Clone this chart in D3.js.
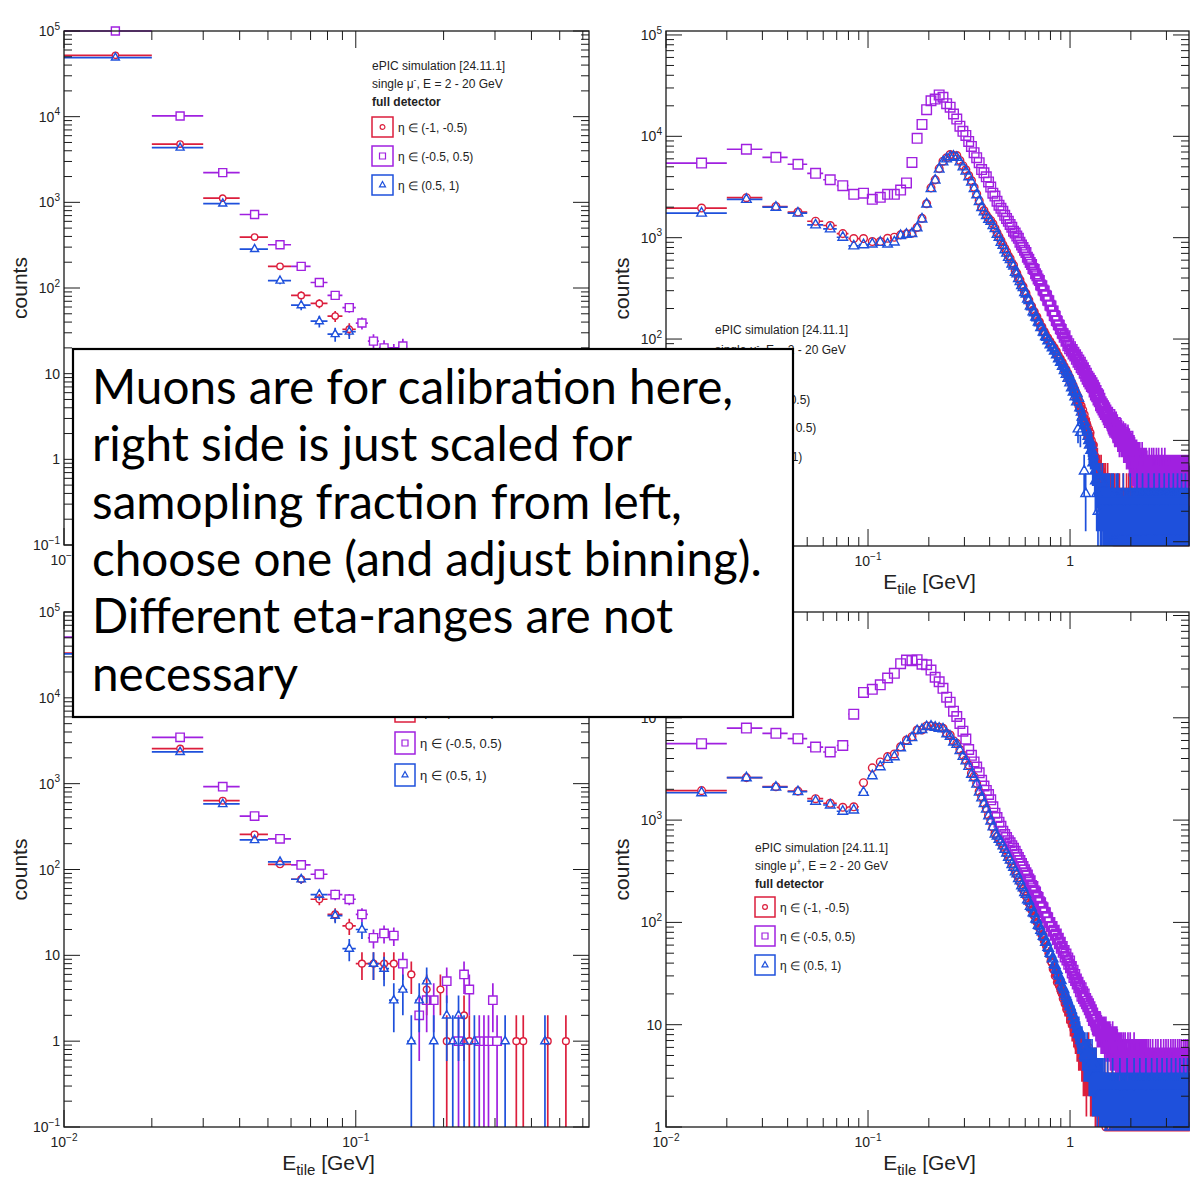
<!DOCTYPE html>
<html>
<head>
<meta charset="utf-8">
<script src="https://cdn.jsdelivr.net/npm/d3@7"></script>
<style>
  body { margin: 0; background: #fff; }
</style>
</head>
<body>
<svg id="chart" width="1190" height="1179"></svg>
<script>
// Bins are 0.01 GeV wide, the first one is [0.01, 0.02]
var binStart = 0.01;
var binWidth = 0.01;

// ---- top left: E_tile, small range ----
var tlRed = [52000, 4790, 1117, 393, 179, 82, 66, 47, 33];
var tlPurple = [100000, 10200, 2220, 721, 320, 179, 116, 82, 59, 39, 24, 20, 18, 21];
var tlBlue = [49000, 4350, 968, 285, 122, 63, 41, 29, 31];

// ---- bottom left ----
var blRed = [33300, 2566, 633, 256, 115, 77, 45, 30, 22, 8, 8, 8, 8, 0, 6, 0, 4, 0, 4, 1,
  0, 0, 2, 1, 0, 0, 0, 0, 0, 0, 0, 0, 0, 0, 1, 0, 1, 0, 0, 0, 0, 0, 0, 0, 1, 0, 0, 0, 0, 0, 0, 1];
var blPurple = [51000, 3470, 923, 419, 228, 113, 88, 51, 45, 30, 16, 18, 17, 8, 0, 2, 3, 3, 0, 5,
  0, 1, 6, 4, 0, 1, 1, 1, 3, 1];
var blBlue = [32500, 2345, 580, 221, 123, 77, 51, 29, 12, 20, 8, 7, 3, 4, 1, 3, 5, 1, 0, 2,
  1, 2, 1, 0, 1, 0, 0, 0, 0, 0, 0, 1, 0, 0, 0, 0, 0, 0, 0, 0, 0, 0, 0, 1];

// ---- top right: scaled energy ----
var trRed = [1960, 2480, 2030, 1790, 1452, 1318, 1097, 980, 980, 915,
  915, 986, 1010, 1066, 1090, 1105, 1260, 1550, 2158, 3100,
  3720, 4800, 5680, 6140, 6610, 6460, 6460, 5770, 5130, 4670,
  4100, 3660, 3140, 2700, 2320, 2000, 1850, 1680, 1560, 1480,
  1370, 1240, 1120, 1020, 940, 850, 785, 725, 665, 625,
  565, 535, 470, 445, 405, 382, 345, 330, 295, 283,
  255, 243, 218, 211, 192, 186, 170, 166, 151, 148,
  134, 132, 120, 119, 112, 104, 103, 96, 95, 88,
  88, 81, 82, 75, 76, 68, 69, 63, 64, 58,
  59, 53, 54, 48, 50, 44, 46, 40, 42, 37,
  38, 33, 35, 30, 32, 27, 29, 24, 27, 22,
  24, 20, 22, 18, 20, 16, 18, 14, 16, 13,
  14, 11, 13, 10, 12, 9, 10];
var trRedTail = "98977665654544534343243324232323222312322122321322" +
  "21221320212231221302122132021223122021213202122312" +
  "20212132021223121302122132021223120212213202122312" +
  "21202121320212231213021221320212231202122132021223" +
  "12130212213202122312021221320212231213021221320212" +
  "23120212213202122312";

var trPurple = [5450, 7450, 6200, 5300, 4310, 3730, 3260, 2680, 2750, 2390,
  2500, 2680, 2680, 2950, 3470, 5530, 9560, 13100, 18300, 22400,
  23300, 25600, 24300, 21000, 19400, 16600, 14800, 12600, 11200, 10200,
  8900, 7950, 6900, 6150, 5500, 4700, 4360, 3980, 3550, 3160,
  2750, 2570, 2290, 2090, 1950, 1820, 1660, 1550, 1450, 1350,
  1270, 1160, 1110, 1040, 985, 900, 845, 800, 752, 715,
  640, 612, 570, 545, 497, 485, 440, 420, 392, 378,
  342, 335, 305, 298, 270, 266, 241, 238, 215, 212,
  190, 189, 171, 168, 152, 150, 138, 137, 126, 124,
  114, 113, 104, 108, 95, 96, 86, 90, 80, 84,
  76, 79, 71, 74, 68, 70, 63, 66, 59, 62,
  56, 59, 52, 55, 50, 52, 46, 49, 43, 46,
  40, 43, 38, 41, 36, 39, 34, 37, 33, 35,
  30, 33, 28, 31, 27, 29, 25, 28, 24, 26,
  22, 24, 21, 23, 20, 22, 19, 21, 18, 20,
  18, 17, 19, 16, 17, 15, 18, 16, 15, 17,
  14, 16, 13, 15, 14, 12, 15, 13, 12, 14,
  12, 11, 13, 12, 10, 12, 11, 13, 10, 11,
  11, 10, 12, 9, 11, 10, 9, 11, 10, 8,
  10, 9, 11, 8, 9, 10, 8, 9, 7, 9];
var trPurpleTail = "79686758576657657465765564756545646536454535464354" +
  "53645345634543546453453645435453463545345436453545" +
  "34543534243534352434353424353434253435342435343524" +
  "35343534243534252434353424353434253435342435343524";

var trBlue = [1750, 2390, 2000, 1750, 1337, 1222, 1010, 830, 852, 868,
  900, 868, 908, 1050, 1080, 1100, 1250, 1530, 2150, 3050,
  3700, 4750, 5600, 6000, 6300, 6350, 6200, 5600, 5000, 4550,
  4000, 3550, 3050, 2650, 2280, 1980, 1800, 1650, 1520, 1450,
  1320, 1230, 1080, 1010, 900, 840, 760, 705, 640, 610,
  550, 525, 455, 440, 395, 370, 338, 322, 287, 278,
  248, 240, 212, 208, 186, 182, 165, 162, 147, 145,
  130, 130, 117, 116, 106, 104, 96, 97, 88, 89,
  82, 83, 76, 77, 70, 70, 64, 65, 59, 60,
  54, 56, 49, 52, 45, 48, 41, 45, 37, 41,
  33, 37, 30, 34, 27, 31, 24, 29, 13, 26,
  21, 12, 19, 17, 15, 16, 5, 15, 3, 13,
  12, 11, 10, 9, 10, 8, 9];
var trBlueTail = "86765453524342324323232232323222312322122321322212" +
  "21221312211202121221312122120212212131221212021221" +
  "31212212021221213122121202122121312212120212212131" +
  "22121202122121312212120212212131221212021221213122" +
  "12120212212131221212021221213122121202122121312212" +
  "1202122121312212";

// ---- bottom right ----
var brRed = [1940, 2600, 2120, 1920, 1620, 1460, 1333, 1350, 2320, 3240,
  3700, 4170, 4430, 5210, 6060, 6540, 7600, 7600, 8320, 8320,
  8070, 8070, 7890, 7050, 6780, 5970, 5620, 4900, 4330, 3870,
  3450, 2870, 2660, 2290, 1900, 1700, 1460, 1300, 1120, 1000,
  850, 740, 690, 645, 598, 556, 516, 470, 440, 400,
  376, 340, 320, 292, 276, 248, 236, 210, 203, 181,
  173, 155, 151, 133, 130, 116, 114, 101, 99, 88,
  86, 76, 75, 66, 65, 58, 56, 50, 48, 42,
  40, 35, 34, 30, 31, 26, 27, 24, 23, 21,
  20, 18, 19, 16, 16, 14, 15, 13, 13, 11,
  12, 10, 11, 9, 10, 8, 9, 7, 8, 6,
  7, 6, 6, 5, 6, 4, 5, 4, 4, 3];
var brRedTail = "54645343433424323232232322232122321222123212221322" +
  "21221320212231221302122132021223122021213202122312" +
  "20212132021223121302122132021223120212213202122312" +
  "21202121320212231213021221320212231202122132021223" +
  "12130212213202122312021221320212231213021221320212" +
  "23120212213202122312";

var brPurple = [5580, 7940, 7050, 6250, 5170, 4630, 5360, 10850, 17700, 19000,
  21000, 24500, 27200, 33800, 36700, 36200, 37000, 33400, 33000, 29300,
  24900, 22500, 19400, 15900, 14200, 11600, 10300, 8800, 7400, 6200,
  4900, 4300, 3700, 3300, 2900, 2450, 2150, 1950, 1780, 1580,
  1350, 1170, 1060, 955, 870, 776, 725, 676, 630, 600,
  562, 531, 495, 462, 431, 403, 376, 351, 327, 305,
  290, 265, 255, 230, 224, 204, 198, 179, 175, 159,
  156, 142, 139, 126, 124, 112, 111, 100, 100, 91,
  91, 82, 84, 75, 77, 68, 70, 62, 64, 56,
  58, 51, 53, 46, 49, 43, 45, 39, 42, 36,
  37, 32, 34, 29, 31, 27, 28, 25, 26, 23,
  24, 21, 23, 19, 21, 18, 20, 17, 18, 16,
  17, 15, 16, 14, 15, 13, 14, 12, 13, 11,
  12, 11, 12, 10, 11, 9, 10, 9, 10, 9,
  10, 8, 9, 8, 9, 8, 9, 7, 8, 9,
  7, 8, 8, 7, 8, 7, 8, 6, 7, 7,
  6, 8, 7, 6, 7, 6, 7, 5, 6, 7,
  6, 5, 6, 6, 5];
var brPurpleTail = "56565456545654554645456454545546454545445454345445" +
  "45434544543454344543443544343454434443454344345443" +
  "43443534434443534434435344344353443444353443443534" +
  "43443534434443534434435344344353443444353443443534" +
  "43443534434443534434";

var brBlue = [1850, 2600, 2100, 1900, 1530, 1405, 1220, 1255, 1870, 2720,
  3330, 3930, 4170, 5100, 5900, 6400, 7500, 7700, 8200, 8300,
  8100, 7900, 7800, 7000, 6600, 5800, 5500, 4800, 4200, 3800,
  3350, 2800, 2600, 2250, 1880, 1650, 1450, 1280, 1100, 980,
  860, 730, 700, 650, 612, 560, 520, 478, 434, 408,
  368, 346, 312, 298, 268, 255, 228, 218, 196, 188,
  166, 162, 144, 140, 124, 122, 108, 106, 94, 92,
  84, 81, 73, 72, 64, 64, 57, 56, 50, 49,
  44, 44, 39, 38, 35, 34, 31, 30, 27, 27,
  24, 23, 22, 20, 19, 18, 17, 16, 15, 15,
  14, 13, 12, 12, 11, 10, 10, 9, 8, 9,
  8, 7, 7, 7, 6, 6, 5, 6, 5, 5];
var brBlueTail = "65545445343434323332323232232222322121222321212221" +
  "21221312211202121221312122120212212131221212021221" +
  "31212212021221213122121202122121312212120212212131" +
  "22121202122121312212120212212131221212021221213122" +
  "12120212212131221212021221213122121202122121312212" +
  "1202122121312212";

var legendRows = ["(-1, -0.5)", "(-0.5, 0.5)", "(0.5, 1)"];
var noteLines = ["Muons are for calibration here,", "right side is just scaled for",
  "samopling fraction from left,", "choose one (and adjust binning).",
  "Different eta-ranges are not", "necessary"];

var FONT = "'Liberation Sans', Arial, Helvetica, sans-serif";
var colors = ["#dc1e3c", "#a020e0", "#1e50dc"];
var kinds = ["circle", "square", "triangle"];

function withTail(arr, tail) {
  return arr.concat(tail.split("").map(Number));
}

var svg = d3.select("#chart");

var panels = [
  { x0: 64, x1: 589, y0: 31, y1: 545, xDomain: [0.01, 0.63], yDomain: [0.1, 1e5],
    series: [tlRed, tlPurple, tlBlue], ms: 1.0, mu: "-",
    legend: { x: 372, head: [70, 88, 106], rows: [127, 156, 185], box: [21, 20], fs: 12 } },
  { x0: 64, x1: 589, y0: 612, y1: 1127, xDomain: [0.01, 0.63], yDomain: [0.1, 1e5],
    series: [blRed, blPurple, blBlue], ms: 1.05, mu: "-",
    legend: { x: 395, head: [645, 665, 685], rows: [711, 743, 775], box: [20, 22], fs: 13 } },
  { x0: 666, x1: 1189, y0: 31, y1: 546, xDomain: [0.01, 3.88], yDomain: [0.908, 109400],
    series: [withTail(trRed, trRedTail), withTail(trPurple, trPurpleTail), withTail(trBlue, trBlueTail)],
    ms: 1.2, mu: "-",
    legend: { x: 715, head: [334, 354, 374], rows: [399, 427, 456], box: [21, 20], fs: 12 } },
  { x0: 666, x1: 1189, y0: 612, y1: 1127, xDomain: [0.01, 3.88], yDomain: [1, 108200],
    series: [withTail(brRed, brRedTail), withTail(brPurple, brPurpleTail), withTail(brBlue, brBlueTail)],
    ms: 1.2, mu: "+",
    legend: { x: 755, head: [852, 870, 888], rows: [907, 936, 965], box: [20, 20], fs: 12 } }
];

// the white note box that lies over the four plots
var noteBox = { x: 73, y: 349, w: 720, h: 368 };

function addMarker(path, kind, cx, cy, s) {
  if (kind === "circle") {
    var r = 3.2 * s;
    path.moveTo(cx + r, cy);
    path.arc(cx, cy, r, 0, 2 * Math.PI);
  } else if (kind === "square") {
    var h = 4 * s;
    path.rect(cx - h, cy - h, 2 * h, 2 * h);
  } else {
    var t = 4.6 * s;
    path.moveTo(cx, cy - t);
    path.lineTo(cx + t * 0.87, cy + t * 0.55);
    path.lineTo(cx - t * 0.87, cy + t * 0.55);
    path.closePath();
  }
}

function drawSeries(g, counts, x, y, p, k) {
  var bars = d3.path(), marks = d3.path();
  var gap = (k === 0 ? 3.2 : k === 1 ? 4 : 2.5) * p.ms;
  counts.forEach(function(n, i) {
    if (!n) return;
    var lo = binStart + binWidth * i, hi = lo + binWidth, c = lo + binWidth / 2;
    if (c > p.xDomain[1]) return;
    var cx = x(c), cy = y(n);
    var xl = x(lo), xr = Math.min(x(hi), p.x1);
    var e = Math.sqrt(n);
    var yt = y(Math.min(n + e, p.yDomain[1]));
    var yb = n - e > p.yDomain[0] ? y(n - e) : p.y1;
    if (cx - gap > xl) { bars.moveTo(xl, cy); bars.lineTo(cx - gap, cy); }
    if (xr > cx + gap) { bars.moveTo(cx + gap, cy); bars.lineTo(xr, cy); }
    if (cy - gap > yt) { bars.moveTo(cx, yt); bars.lineTo(cx, cy - gap); }
    if (yb > cy + gap) { bars.moveTo(cx, cy + gap); bars.lineTo(cx, yb); }
    addMarker(marks, kinds[k], cx, cy, p.ms);
  });
  g.append("path").attr("d", bars.toString())
    .attr("stroke", colors[k]).attr("stroke-width", 1.7).attr("fill", "none");
  g.append("path").attr("d", marks.toString())
    .attr("stroke", colors[k]).attr("stroke-width", 1.4).attr("fill", "none");
}

function powLabel(sel, n, fs) {
  if (n === 0) { sel.text("1"); return; }
  if (n === 1) { sel.text("10"); return; }
  sel.append("tspan").text("10");
  sel.append("tspan").attr("dy", -fs * 0.45).attr("font-size", fs * 0.72)
    .text(n < 0 ? "\u2212" + (-n) : String(n));
}

function drawAxes(g, x, y, p) {
  var t = g.append("g").attr("stroke", "#1a1a1a").attr("stroke-width", 1);
  // y ticks (log)
  var ly0 = Math.floor(Math.log10(p.yDomain[0])), ly1 = Math.ceil(Math.log10(p.yDomain[1]));
  for (var d = ly0; d <= ly1; d++) {
    for (var m = 1; m < 10; m++) {
      var v = m * Math.pow(10, d);
      if (v < p.yDomain[0] * 0.999 || v > p.yDomain[1] * 1.001) continue;
      var yy = y(v), len = m === 1 ? 16 : 8;
      t.append("line").attr("x1", p.x0).attr("x2", p.x0 + len).attr("y1", yy).attr("y2", yy);
      t.append("line").attr("x1", p.x1).attr("x2", p.x1 - len).attr("y1", yy).attr("y2", yy);
      if (m === 1) {
        var lab = g.append("text").attr("x", p.x0 - 4).attr("y", yy + 5)
          .attr("text-anchor", "end").attr("font-size", 14);
        powLabel(lab, d, 14);
      }
    }
  }
  // x ticks (log)
  var lx0 = Math.floor(Math.log10(p.xDomain[0])), lx1 = Math.ceil(Math.log10(p.xDomain[1]));
  for (var dx = lx0; dx <= lx1; dx++) {
    for (var mx = 1; mx < 10; mx++) {
      var vx = mx * Math.pow(10, dx);
      if (vx < p.xDomain[0] * 0.999 || vx > p.xDomain[1]) continue;
      var xx = x(vx), lenx = mx === 1 ? 17 : 9;
      t.append("line").attr("x1", xx).attr("x2", xx).attr("y1", p.y1).attr("y2", p.y1 - lenx);
      t.append("line").attr("x1", xx).attr("x2", xx).attr("y1", p.y0).attr("y2", p.y0 + lenx);
      if (mx === 1) {
        var lx = g.append("text").attr("x", xx).attr("y", p.y1 + 20)
          .attr("text-anchor", "middle").attr("font-size", 14);
        powLabel(lx, dx, 14);
      }
    }
  }
  g.append("rect").attr("x", p.x0).attr("y", p.y0)
    .attr("width", p.x1 - p.x0).attr("height", p.y1 - p.y0)
    .attr("fill", "none").attr("stroke", "#1a1a1a").attr("stroke-width", 1.3);

  // axis titles
  g.append("text").attr("transform", "translate(" + (p.x0 - 37) + "," + ((p.y0 + p.y1) / 2) + ") rotate(-90)")
    .attr("text-anchor", "middle").attr("font-size", 21).text("counts");
  var xt = g.append("text").attr("x", (p.x0 + p.x1) / 2 + 2).attr("y", p.y1 + 43)
    .attr("text-anchor", "middle").attr("font-size", 21);
  xt.append("tspan").text("E");
  xt.append("tspan").attr("dy", 5).attr("font-size", 15).text("tile");
  xt.append("tspan").attr("dy", -5).text(" [GeV]");
}

function drawLegend(g, p) {
  var L = p.legend;
  var lg = g.append("g").attr("font-size", L.fs).attr("fill", "#222");
  lg.append("text").attr("x", L.x).attr("y", L.head[0]).text("ePIC simulation [24.11.1]");
  var mu = lg.append("text").attr("x", L.x).attr("y", L.head[1]);
  mu.append("tspan").text("single \u03bc");
  mu.append("tspan").attr("dy", -5).attr("font-size", L.fs * 0.7).text(p.mu);
  mu.append("tspan").attr("dy", 5).text(", E = 2 - 20 GeV");
  lg.append("text").attr("x", L.x).attr("y", L.head[2]).attr("font-weight", "bold").text("full detector");
  legendRows.forEach(function(r, k) {
    var cy = L.rows[k];
    lg.append("rect").attr("x", L.x).attr("y", cy - L.box[1] / 2)
      .attr("width", L.box[0]).attr("height", L.box[1])
      .attr("fill", "none").attr("stroke", colors[k]).attr("stroke-width", 1.5);
    var mp = d3.path();
    addMarker(mp, kinds[k], L.x + L.box[0] / 2, cy, 0.75);
    lg.append("path").attr("d", mp.toString()).attr("fill", "none")
      .attr("stroke", colors[k]).attr("stroke-width", 1.2);
    lg.append("text").attr("x", L.x + L.box[0] + 5).attr("y", cy + L.fs * 0.38)
      .text("\u03b7 \u2208 " + r);
  });
}

var plotLayer = svg.append("g");
panels.forEach(function(p) {
  var x = d3.scaleLog().domain(p.xDomain).range([p.x0, p.x1]);
  var y = d3.scaleLog().domain(p.yDomain).range([p.y1, p.y0]);
  var g = plotLayer.append("g").attr("font-family", FONT).attr("fill", "#222");
  p.series.forEach(function(s, k) { drawSeries(g, s, x, y, p, k); });
  drawAxes(g, x, y, p);
  drawLegend(g, p);
});

// texts that sit entirely under the note box are not seen, drop them
var svgRect = svg.node().getBoundingClientRect();
plotLayer.selectAll("text").each(function() {
  var b = this.getBoundingClientRect();
  var bx = b.left - svgRect.left, by = b.top - svgRect.top;
  if (bx >= noteBox.x && by >= noteBox.y &&
      bx + b.width <= noteBox.x + noteBox.w && by + b.height <= noteBox.y + noteBox.h) {
    d3.select(this).remove();
  }
});

// overlay note box
var note = svg.append("g");
note.append("rect").attr("x", noteBox.x).attr("y", noteBox.y)
  .attr("width", noteBox.w).attr("height", noteBox.h)
  .attr("fill", "#fff").attr("stroke", "#000").attr("stroke-width", 2.2);
var noteText = note.append("g").attr("font-family", "Lato, 'Open Sans', sans-serif").attr("fill", "#000");
var fs = 40;
var lines = noteLines.map(function(l, i) {
  return noteText.append("text").attr("x", 92).attr("y", 404 + i * 57.3).attr("font-size", fs).text(l);
});
// fit the longest line to the width seen in the picture
var w = lines[3].node().getComputedTextLength();
if (w > 0) {
  var nfs = fs * 670 / w;
  lines.forEach(function(l) { l.attr("font-size", nfs); });
}
</script>
</body>
</html>
